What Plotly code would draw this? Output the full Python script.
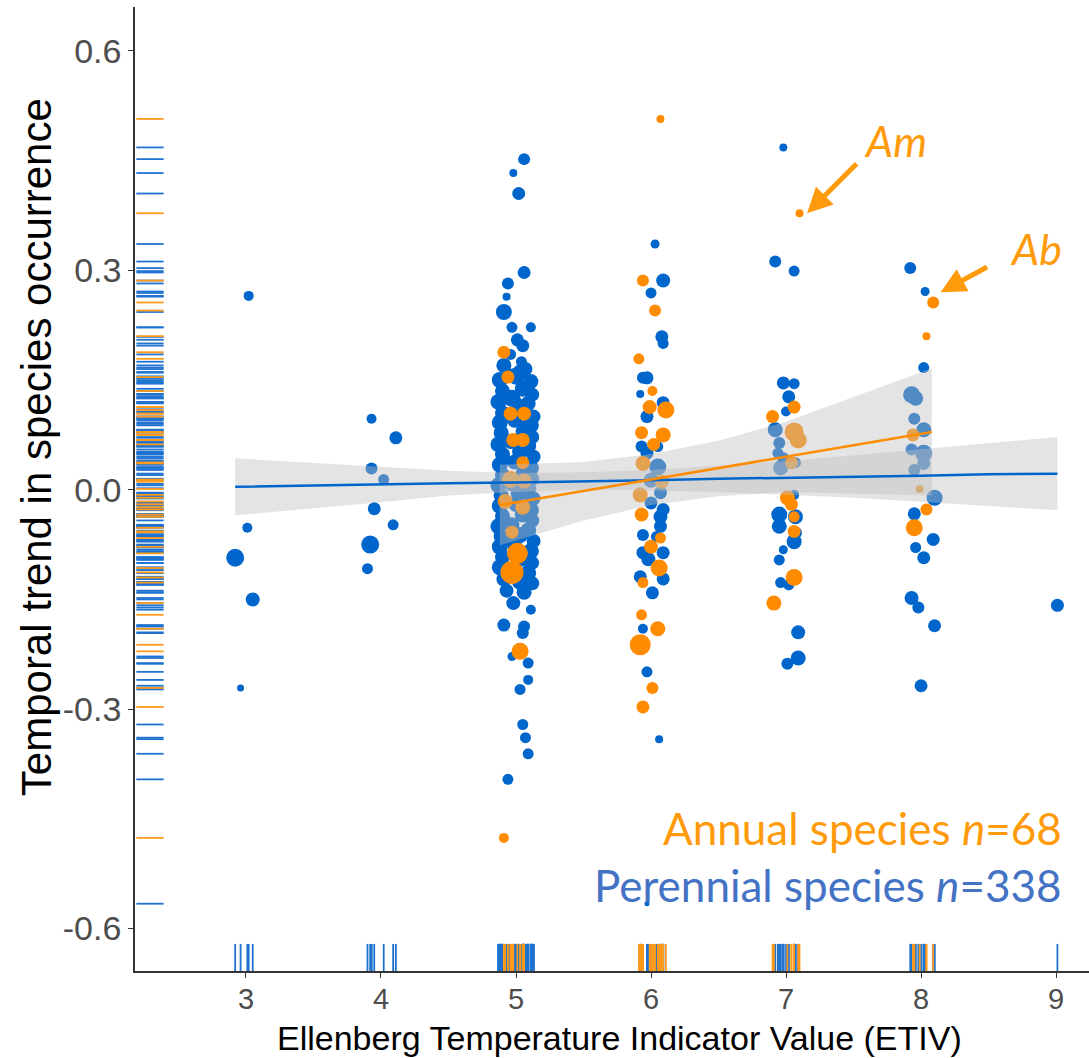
import plotly.graph_objects as go

# ---------------- data ----------------
# Perennial species: jittered ETIV, temporal trend, marker size
per_x = [
    # ETIV 3
    3.02, 2.92, 3.01, 3.05, 2.96,
    # ETIV 4
    3.93, 4.11, 3.93, 4.02, 3.95, 4.09, 3.92, 3.90,
    # ETIV 5 (outer points)
    5.06, 4.98, 5.02, 5.06, 4.94, 4.93, 4.91, 4.97, 5.11, 5.01, 5.05, 5.03,
    4.98, 4.91, 5.11, 5.06, 5.05, 4.97, 5.09, 5.09, 5.03, 5.05, 5.07, 5.09, 4.94,
    # ETIV 5 (dense core)
    4.91, 5.07, 4.88, 5.00, 5.11, 4.90, 5.05, 5.12, 4.87, 4.97, 5.09,
    4.90, 5.02, 5.13, 4.88, 4.99, 5.11, 4.89, 5.06, 5.12, 4.87, 4.96, 5.09,
    4.90, 5.03, 5.13, 4.88, 4.99, 5.11, 4.90, 5.06, 5.12, 4.87, 4.97, 5.09,
    4.89, 5.02, 5.13, 4.88, 5.00, 5.11, 4.90, 5.05, 5.12, 4.87, 4.97, 5.09,
    4.89, 5.03, 5.13, 4.88, 4.99, 5.11, 4.90, 5.06, 5.12, 4.88, 4.97, 5.09,
    4.91, 5.03, 5.12, 4.93, 5.06,
    4.95, 5.07, 4.93, 5.09, 4.94, 5.08, 5.01, 5.02, 4.96, 5.04,
    # ETIV 6
    6.03, 6.09, 6.00, 6.08, 6.09, 5.97, 5.94, 5.92, 6.09, 5.97, 5.93, 6.05,
    5.97, 6.05, 6.00, 6.07, 6.00, 6.09, 6.07, 6.07, 5.94, 6.04, 5.94, 6.09,
    5.98, 5.92, 6.09, 6.01, 5.94, 5.97, 6.06, 5.97,
    # ETIV 7
    6.98, 6.92, 7.06, 6.98, 7.06, 7.02, 7.00, 6.92, 6.95, 6.94, 6.98, 6.96,
    7.07, 7.06, 6.95, 7.07, 6.95, 7.07, 7.06, 6.98, 6.95, 6.96, 7.02, 7.09,
    7.09, 7.01,
    # ETIV 8
    7.92, 8.03, 8.02, 7.93, 7.96, 7.95, 8.02, 7.93, 8.02, 8.02, 7.95, 8.10,
    7.95, 8.09, 7.96, 8.02, 7.93, 7.98, 8.10, 8.00,
    # ETIV 9
    9.01,
]
per_y = [
    0.265, -0.093, -0.052, -0.150, -0.271,
    0.097, 0.071, 0.029, 0.014, -0.026, -0.048, -0.075, -0.108,
    0.452, 0.433, 0.405, 0.297, 0.282, 0.264, 0.243, 0.222, 0.222, 0.205, 0.197, 0.161,
    -0.155, -0.185, -0.164, -0.187, -0.196, -0.228, -0.237, -0.260, -0.273, -0.321, -0.339, -0.361, -0.396,
    0.170, 0.165, 0.150, 0.155, 0.148, 0.135, 0.138, 0.130, 0.120, 0.125, 0.118,
    0.105, 0.110, 0.100, 0.092, 0.095, 0.088, 0.078, 0.080, 0.072, 0.062, 0.066, 0.060,
    0.048, 0.052, 0.045, 0.034, 0.038, 0.030, 0.020, 0.022, 0.015, 0.006, 0.008, 0.002,
    -0.008, -0.005, -0.012, -0.022, -0.020, -0.028, -0.036, -0.034, -0.042, -0.050, -0.048, -0.056,
    -0.064, -0.062, -0.070, -0.078, -0.076, -0.084, -0.092, -0.094, -0.100, -0.106, -0.110, -0.114,
    -0.122, -0.126, -0.128, -0.138, -0.140,
    0.160, 0.090, 0.040, -0.010, -0.070, -0.130, 0.120, -0.100, 0.185, 0.175,
    0.336, 0.286, 0.269, 0.209, 0.200, 0.153, 0.153, 0.131, 0.119, 0.100, 0.059, 0.059,
    0.050, 0.031, 0.013, -0.004, -0.018, -0.027, -0.037, -0.050, -0.062, -0.064, -0.086, -0.086,
    -0.095, -0.119, -0.122, -0.141, -0.190, -0.249, -0.341, -0.566,
    0.468, 0.312, 0.299, 0.146, 0.145, 0.127, 0.107, 0.082, 0.064, 0.050, 0.043, 0.030,
    0.037, -0.007, -0.034, -0.037, -0.050, -0.059, -0.071, -0.082, -0.096, -0.127, -0.130, -0.195,
    -0.230, -0.238,
    0.303, 0.271, 0.167, 0.130, 0.125, 0.097, 0.082, 0.055, 0.050, 0.036, 0.027, -0.011,
    -0.033, -0.068, -0.079, -0.093, -0.148, -0.161, -0.186, -0.268,
    -0.158,
]
per_size = [
    10, 18, 10, 14, 7,
    10, 13, 12, 11, 13, 11, 18, 11,
    12, 8, 13, 13, 12, 8, 16, 11, 10, 13, 13, 15,
    14, 13, 10, 12, 12, 9, 11, 10, 11, 11, 11, 11, 11,
    15, 14, 16, 17, 15, 15, 16, 14, 16, 17, 15,
    15, 16, 14, 16, 15, 16, 15, 17, 14, 16, 15, 16,
    15, 16, 14, 16, 15, 16, 15, 17, 14, 16, 15, 16,
    15, 16, 14, 16, 15, 16, 15, 16, 14, 16, 15, 16,
    15, 16, 14, 16, 15, 16, 15, 16, 14, 16, 15, 16,
    15, 16, 14, 14, 15,
    9, 9, 9, 9, 9, 9, 10, 10, 11, 11,
    9, 14, 11, 13, 11, 13, 12, 8, 13, 13, 12, 11,
    13, 17, 15, 13, 13, 13, 14, 13, 12, 11, 13, 13,
    14, 13, 13, 13, 10, 11, 8, 5,
    8, 12, 11, 13, 11, 13, 10, 15, 12, 11, 12, 15,
    11, 10, 16, 15, 15, 13, 15, 9, 11, 11, 11, 14,
    15, 12,
    12, 9, 11, 17, 15, 12, 15, 12, 17, 13, 12, 16,
    13, 13, 11, 13, 14, 12, 13, 13,
    13,
]

# Annual species
ann_x = [
    4.91, 4.94, 4.96, 5.06, 4.98, 5.05, 5.05, 4.96, 5.06, 4.92, 5.05, 4.97, 5.01, 4.97, 5.03, 4.91,
    6.07, 5.94, 6.03, 5.91, 6.01, 5.99, 6.11, 5.93, 6.09, 6.02, 5.94, 6.08, 5.92, 5.93, 6.07, 6.00,
    6.06, 5.94, 5.93, 6.05, 5.92, 6.01, 5.94,
    7.10, 7.06, 6.90, 7.06, 7.09, 7.04, 7.01, 7.04, 7.06, 7.06, 7.06, 6.91,
    8.09, 8.04, 7.94, 7.99, 8.04, 7.95,
]
ann_y = [
    0.188, 0.154, 0.104, 0.104, 0.068, 0.068, 0.037, 0.014, 0.012, -0.016, -0.024, -0.058, -0.087, -0.113, -0.221, -0.476,
    0.507, 0.286, 0.245, 0.179, 0.135, 0.113, 0.109, 0.078, 0.075, 0.062, 0.036, 0.011, -0.007, -0.034, -0.066, -0.078,
    -0.107, -0.127, -0.171, -0.190, -0.212, -0.271, -0.297,
    0.378, 0.113, 0.100, 0.079, 0.068, 0.037, -0.011, -0.020, -0.037, -0.057, -0.120, -0.155,
    0.256, 0.210, 0.075, 0.001, -0.027, -0.052,
]
ann_size = [
    13, 13, 14, 14, 14, 14, 13, 17, 15, 15, 15, 13, 21, 23, 17, 10,
    8, 12, 12, 11, 10, 14, 17, 13, 15, 13, 15, 14, 15, 14, 11, 14,
    17, 11, 11, 15, 21, 12, 13,
    8, 13, 13, 19, 17, 13, 15, 13, 11, 13, 17, 15,
    12, 8, 13, 8, 12, 17,
]

# Linear fits with 95% confidence bands
per_fit_x = [2.92, 3.5, 4.0, 4.5, 5.0, 5.5, 6.0, 6.5, 7.0, 7.5, 8.0, 8.5, 9.01]
per_fit_y = [0.004, 0.006, 0.007, 0.009, 0.010, 0.012, 0.013, 0.015, 0.016, 0.018, 0.019, 0.021, 0.022]
per_fit_hi = [0.043, 0.037, 0.031, 0.026, 0.023, 0.024, 0.027, 0.033, 0.039, 0.047, 0.055, 0.064, 0.072]
per_fit_lo = [-0.035, -0.025, -0.017, -0.008, -0.003, 0.000, -0.001, -0.003, -0.007, -0.011, -0.017, -0.022, -0.028]

ann_fit_x = [4.88, 5.2, 5.5, 6.0, 6.5, 7.0, 7.5, 8.08]
ann_fit_y = [-0.021, -0.011, -0.002, 0.014, 0.029, 0.045, 0.061, 0.079]
ann_fit_hi = [0.034, 0.036, 0.038, 0.049, 0.067, 0.093, 0.127, 0.166]
ann_fit_lo = [-0.076, -0.058, -0.042, -0.021, -0.009, -0.003, -0.005, -0.008]

x_ticks = [3, 4, 5, 6, 7, 8, 9]
y_ticks = [-0.6, -0.3, 0.0, 0.3, 0.6]
y_tick_labels = ["-0.6", "-0.3", "0.0", "0.3", "0.6"]

# labelled species (Am, Ab)
label_text = ["Am", "Ab"]
label_pt_x = [7.156, 8.145]
label_pt_y = [0.378, 0.270]
label_txt_x = [7.81, 8.85]
label_txt_y = [0.478, 0.330]
label_arrow_dx = [51, 48]
label_arrow_dy = [-51, -26]

n_annual = 68
n_perennial = 338

x_title = "Ellenberg Temperature Indicator Value (ETIV)"
y_title = "Temporal trend in species occurrence"

# ---------------- styles ----------------
BLUE = "#0066CC"
ORANGE = "#FF8C00"
TXT_ORANGE = "#FF9A0A"
TXT_BLUE = "#4472C4"
BAND = "rgba(190,190,190,0.42)"

X_RANGE = [2.178, 9.244]
Y_RANGE = [-0.658, 0.66]
RUG_LEFT_END = 2.39
RUG_BOTTOM_END = -0.621

fig = go.Figure()

# points
fig.add_trace(go.Scatter(x=per_x, y=per_y, mode="markers",
                         marker=dict(color=BLUE, size=per_size, opacity=1, line=dict(width=0)),
                         showlegend=False, hoverinfo="skip"))
fig.add_trace(go.Scatter(x=ann_x, y=ann_y, mode="markers",
                         marker=dict(color=ORANGE, size=ann_size, opacity=1, line=dict(width=0)),
                         showlegend=False, hoverinfo="skip"))

# confidence bands
def band(xs, lo, hi):
    return go.Scatter(x=xs + xs[::-1], y=hi + lo[::-1], mode="lines", fill="toself",
                      fillcolor=BAND, line=dict(width=0), showlegend=False, hoverinfo="skip")

fig.add_trace(band(per_fit_x, per_fit_lo, per_fit_hi))
fig.add_trace(band(ann_fit_x, ann_fit_lo, ann_fit_hi))

# fitted lines
fig.add_trace(go.Scatter(x=per_fit_x, y=per_fit_y, mode="lines",
                         line=dict(color=BLUE, width=2.5), showlegend=False, hoverinfo="skip"))
fig.add_trace(go.Scatter(x=ann_fit_x, y=ann_fit_y, mode="lines",
                         line=dict(color=ORANGE, width=2.5), showlegend=False, hoverinfo="skip"))

# rugs
def rug_left(ys):
    xs, yy = [], []
    for v in ys:
        xs += [X_RANGE[0] + 0.01, RUG_LEFT_END, None]
        yy += [v, v, None]
    return xs, yy

def rug_bottom(xs_in):
    xs, yy = [], []
    for v in xs_in:
        xs += [v, v, None]
        yy += [Y_RANGE[0], RUG_BOTTOM_END, None]
    return xs, yy

for vals_x, vals_y, col in [(per_x, per_y, "#1F72D0"), (ann_x, ann_y, "#FF9A1A")]:
    rx, ry = rug_left(vals_y)
    fig.add_trace(go.Scatter(x=rx, y=ry, mode="lines", line=dict(color=col, width=1.8),
                             showlegend=False, hoverinfo="skip"))
    bx, by = rug_bottom(vals_x)
    fig.add_trace(go.Scatter(x=bx, y=by, mode="lines", line=dict(color=col, width=1.8),
                             showlegend=False, hoverinfo="skip"))

# annotations: labelled species with arrows
for t, px, py, tx, ty, dx, dy in zip(label_text, label_pt_x, label_pt_y, label_txt_x,
                                     label_txt_y, label_arrow_dx, label_arrow_dy):
    fig.add_annotation(x=px, y=py, xref="x", yref="y", text="", showarrow=True,
                       ax=dx, ay=dy, arrowhead=2, arrowsize=1.0, arrowwidth=5,
                       arrowcolor=TXT_ORANGE)
    fig.add_annotation(x=tx, y=ty, xref="x", yref="y", text=f"<i>{t}</i>", showarrow=False,
                       font=dict(family="Lato", size=43, color=TXT_ORANGE))

# group labels
fig.add_annotation(x=9.06, y=-0.463, xref="x", yref="y", xanchor="right", showarrow=False,
                   text=f"Annual species <i>n</i>={n_annual}",
                   font=dict(family="Lato", size=44, color=TXT_ORANGE))
fig.add_annotation(x=9.06, y=-0.541, xref="x", yref="y", xanchor="right", showarrow=False,
                   text=f"Perennial species <i>n</i>={n_perennial}",
                   font=dict(family="Lato", size=44, color=TXT_BLUE))

# axis titles
fig.add_annotation(x=0.508, y=-0.069, xref="paper", yref="paper", xanchor="center",
                   yanchor="middle", showarrow=False, text=x_title,
                   font=dict(family="Liberation Sans", size=34, color="#000000"))
fig.add_annotation(x=-0.1025, y=0.5436, xref="paper", yref="paper", xanchor="center",
                   yanchor="middle", showarrow=False, text=y_title, textangle=-90,
                   font=dict(family="Liberation Sans", size=42, color="#000000"))

fig.update_layout(
    width=1089, height=1058,
    margin=dict(l=135, r=0, t=7, b=87),
    plot_bgcolor="white", paper_bgcolor="white",
    font=dict(family="Liberation Sans", color="#000000"),
    xaxis=dict(range=X_RANGE, tickvals=x_ticks, showgrid=False, zeroline=False,
               showline=True, linecolor="#333333", linewidth=1.6,
               ticks="outside", ticklen=5, tickcolor="#333333", tickwidth=1.2,
               ticklabelstandoff=-4,
               tickfont=dict(size=29, color="#4D4D4D")),
    yaxis=dict(range=Y_RANGE, tickvals=y_ticks, ticktext=y_tick_labels, showgrid=False,
               zeroline=False, showline=True, linecolor="#333333", linewidth=1.6,
               ticks="outside", ticklen=5, tickcolor="#333333", tickwidth=1.2,
               tickfont=dict(size=34, color="#4D4D4D")),
)

fig.write_html("out.html")
